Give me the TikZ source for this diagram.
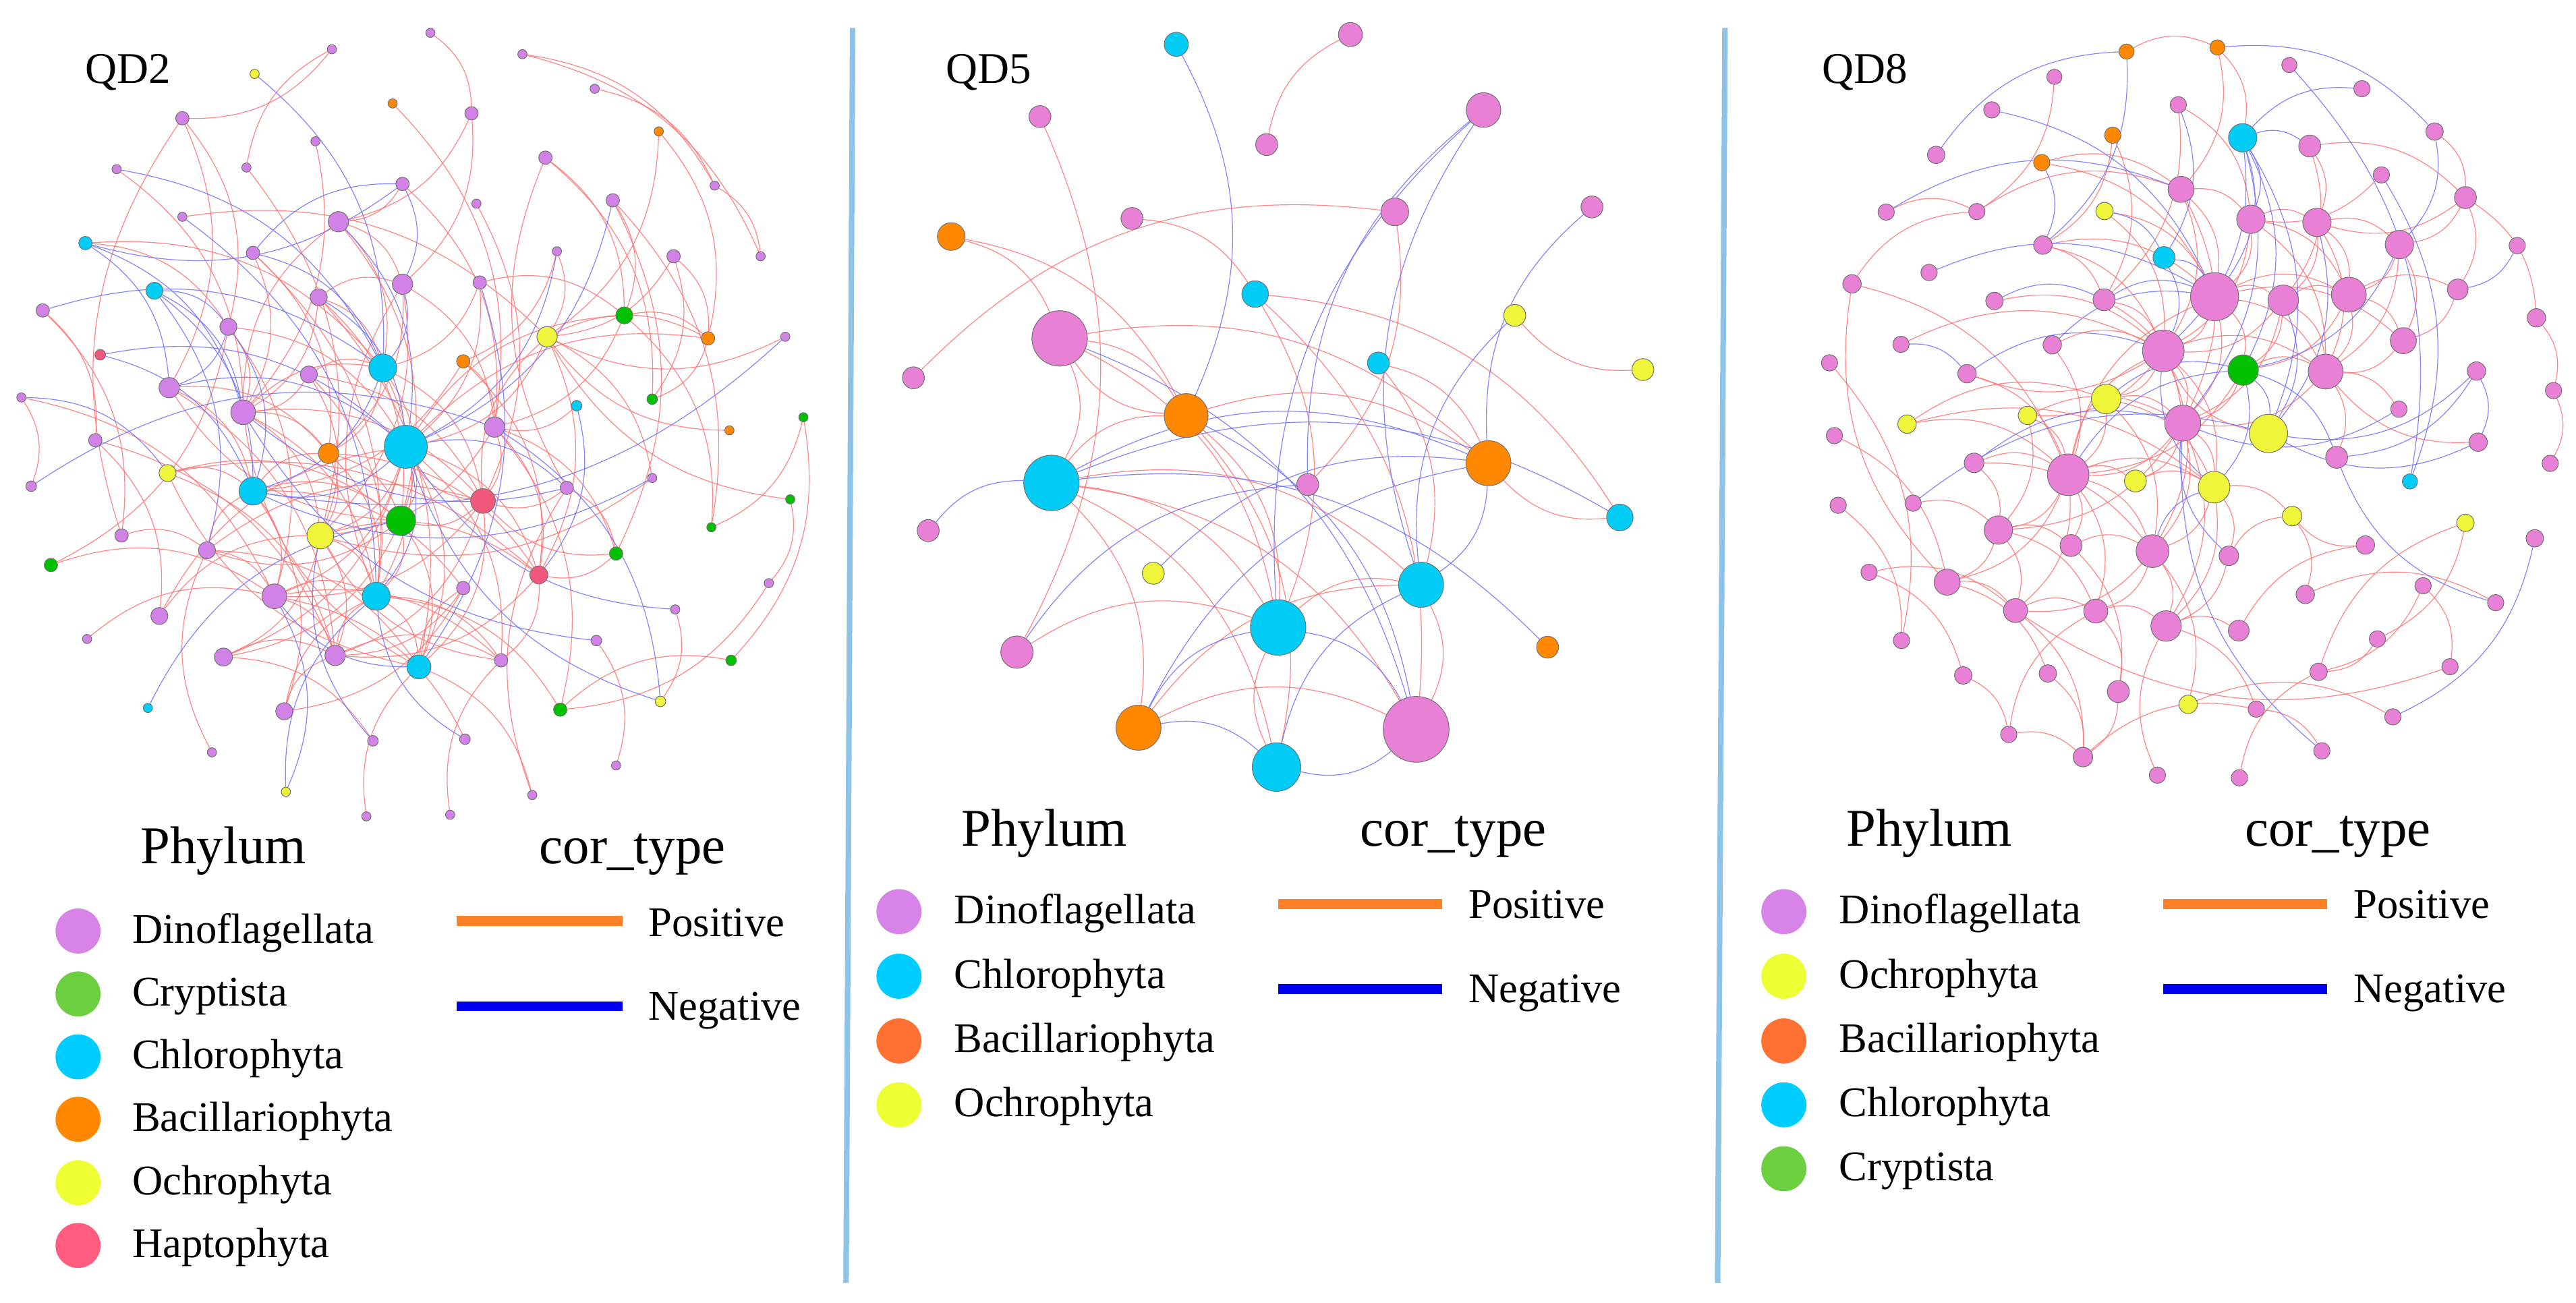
\documentclass[tikz,border=0pt]{standalone}
\usepackage{fontspec}
\setmainfont{Liberation Serif}
\usetikzlibrary{positioning}
\pgfdeclarelayer{edgelayer}
\pgfsetlayers{edgelayer,main}

\definecolor{DinoA}{HTML}{D282E6}
\definecolor{DinoB}{HTML}{E880D6}
\definecolor{DinoLeg}{HTML}{D883E8}
\definecolor{Chloro}{HTML}{00CCF5}
\definecolor{ChloroLeg}{HTML}{00CCFF}
\definecolor{Bacil}{HTML}{FF8800}
\definecolor{BacilLeg}{HTML}{FF7033}
\definecolor{Ochro}{HTML}{EEF53A}
\definecolor{OchroLeg}{HTML}{EEFF33}
\definecolor{Crypto}{HTML}{00C000}
\definecolor{CryptoLeg}{HTML}{6CCF3F}
\definecolor{Hapto}{HTML}{F0587C}
\definecolor{HaptoLeg}{HTML}{FF5C80}
\definecolor{EdgePos}{HTML}{FF7070}
\definecolor{EdgeNeg}{HTML}{6E6EFF}
\definecolor{LegPos}{HTML}{FF7F27}
\definecolor{LegNeg}{HTML}{0000EE}
\definecolor{Divider}{HTML}{8DC3E6}

\tikzset{
  otu/.style={circle, draw=black!55, line width=0.3pt, inner sep=0pt},
  dinoa/.style={otu, fill=DinoA},
  dinob/.style={otu, fill=DinoB},
  chloro/.style={otu, fill=Chloro},
  bacil/.style={otu, fill=Bacil},
  ochro/.style={otu, fill=Ochro},
  crypto/.style={otu, fill=Crypto},
  hapto/.style={otu, fill=Hapto},
  posedge/.style={draw=EdgePos, line width=0.35pt, opacity=0.85, bend left=26},
  negedge/.style={draw=EdgeNeg, line width=0.35pt, opacity=0.85, bend left=26},
  legdot/.style={circle, inner sep=0pt, minimum size=19.5pt},
  legtext/.style={anchor=base west, inner sep=0pt, font=\fontsize{18.3}{20}\selectfont},
  headtext/.style={anchor=base, inner sep=0pt, font=\fontsize{23}{26}\selectfont},
  paneltitle/.style={inner sep=0pt, font=\fontsize{19}{22}\selectfont},
}

\begin{document}
\begin{tikzpicture}[x=0.025cm, y=-0.025cm]
\useasboundingbox (0,0) rectangle (1568,793);

% dividers
\draw[Divider, line width=2.4pt] (519,17) -- (515,781);
\draw[Divider, line width=2.4pt] (1050,17) -- (1045.5,781);

% ---------------- QD2 ----------------
\node[paneltitle] (qd2) at (78,44) {QD2};
\node[dinoa, minimum size=4pt] (a1) at (262,20){};
\node[dinoa, minimum size=4pt] (a2) at (202,30){};
\node[ochro, minimum size=4pt] (a3) at (155,45){};
\node[dinoa, minimum size=4pt] (a4) at (318,33){};
\node[dinoa, minimum size=4pt] (a5) at (362,54){};
\node[dinoa, minimum size=5.8pt] (a6) at (287,69){};
\node[bacil, minimum size=4pt] (a7) at (239,63){};
\node[dinoa, minimum size=5.8pt] (a8) at (111,72){};
\node[dinoa, minimum size=4pt] (a9) at (192,86){};
\node[bacil, minimum size=4pt] (a10) at (401,80){};
\node[dinoa, minimum size=4pt] (a11) at (435,113){};
\node[dinoa, minimum size=4pt] (a12) at (71,103){};
\node[dinoa, minimum size=4pt] (a13) at (150,102){};
\node[dinoa, minimum size=5.8pt] (a14) at (332,96){};
\node[dinoa, minimum size=5.8pt] (a15) at (245,112){};
\node[dinoa, minimum size=4pt] (a16) at (290,124){};
\node[dinoa, minimum size=5.8pt] (a17) at (373,122){};
\node[dinoa, minimum size=4pt] (a18) at (111,132){};
\node[dinoa, minimum size=8.8pt] (a19) at (206,135){};
\node[chloro, minimum size=5.8pt] (a20) at (52,148){};
\node[dinoa, minimum size=5.8pt] (a21) at (154,154){};
\node[dinoa, minimum size=4pt] (a22) at (339,153){};
\node[dinoa, minimum size=5.8pt] (a23) at (410,156){};
\node[dinoa, minimum size=4pt] (a24) at (463,156){};
\node[dinoa, minimum size=8.8pt] (a25) at (245,173){};
\node[dinoa, minimum size=5.8pt] (a26) at (292,172){};
\node[chloro, minimum size=7.4pt] (a27) at (94,177){};
\node[dinoa, minimum size=7.4pt] (a28) at (194,181){};
\node[dinoa, minimum size=5.8pt] (a29) at (26,189){};
\node[dinoa, minimum size=7.4pt] (a30) at (139,199){};
\node[crypto, minimum size=7.4pt] (a31) at (380,192){};
\node[ochro, minimum size=8.8pt] (a32) at (333,205){};
\node[bacil, minimum size=5.8pt] (a33) at (431,206){};
\node[hapto, minimum size=4.6pt] (a34) at (61,216){};
\node[chloro, minimum size=12.1pt] (a35) at (233,224){};
\node[bacil, minimum size=5.8pt] (a36) at (282,220){};
\node[dinoa, minimum size=4pt] (a37) at (478,205){};
\node[dinoa, minimum size=7.4pt] (a38) at (188,228){};
\node[dinoa, minimum size=8.8pt] (a39) at (103,236){};
\node[crypto, minimum size=4.6pt] (a40) at (397,243){};
\node[dinoa, minimum size=4pt] (a41) at (13,242){};
\node[chloro, minimum size=4.6pt] (a42) at (351,247){};
\node[crypto, minimum size=4pt] (a43) at (489,254){};
\node[dinoa, minimum size=10.7pt] (a44) at (148,251){};
\node[dinoa, minimum size=8.8pt] (a45) at (301,260){};
\node[chloro, minimum size=18.6pt] (a46) at (247,272){};
\node[dinoa, minimum size=5.8pt] (a47) at (58,268){};
\node[bacil, minimum size=4pt] (a48) at (444,262){};
\node[bacil, minimum size=8.8pt] (a49) at (200,276){};
\node[ochro, minimum size=7.4pt] (a50) at (102,288){};
\node[dinoa, minimum size=4.6pt] (a51) at (19,296){};
\node[chloro, minimum size=12.1pt] (a52) at (154,299){};
\node[dinoa, minimum size=5.8pt] (a53) at (345,297){};
\node[dinoa, minimum size=4pt] (a54) at (397,291){};
\node[hapto, minimum size=10.7pt] (a55) at (294,305){};
\node[crypto, minimum size=4pt] (a56) at (481,304){};
\node[crypto, minimum size=4pt] (a57) at (433,321){};
\node[crypto, minimum size=12.8pt] (a58) at (244,317){};
\node[ochro, minimum size=11.6pt] (a59) at (195,326){};
\node[dinoa, minimum size=5.8pt] (a60) at (74,326){};
\node[crypto, minimum size=5.8pt] (a61) at (31,344){};
\node[dinoa, minimum size=7.4pt] (a62) at (126,335){};
\node[crypto, minimum size=5.8pt] (a63) at (375,337){};
\node[hapto, minimum size=7.8pt] (a64) at (328,350){};
\node[dinoa, minimum size=10.7pt] (a65) at (167,363){};
\node[chloro, minimum size=12.1pt] (a66) at (229,363){};
\node[dinoa, minimum size=5.8pt] (a67) at (282,358){};
\node[dinoa, minimum size=4pt] (a68) at (468,355){};
\node[dinoa, minimum size=7.4pt] (a69) at (97,375){};
\node[dinoa, minimum size=4pt] (a70) at (411,371){};
\node[dinoa, minimum size=4pt] (a71) at (53,389){};
\node[dinoa, minimum size=7.8pt] (a72) at (136,400){};
\node[dinoa, minimum size=8.8pt] (a73) at (204,399){};
\node[chloro, minimum size=10.4pt] (a74) at (255,406){};
\node[dinoa, minimum size=5.8pt] (a75) at (305,402){};
\node[dinoa, minimum size=4.6pt] (a76) at (363,390){};
\node[crypto, minimum size=4.6pt] (a77) at (445,402){};
\node[chloro, minimum size=4pt] (a78) at (90,431){};
\node[dinoa, minimum size=7.4pt] (a79) at (173,433){};
\node[crypto, minimum size=5.8pt] (a80) at (341,432){};
\node[ochro, minimum size=4.6pt] (a81) at (402,427){};
\node[dinoa, minimum size=4.6pt] (a82) at (227,451){};
\node[dinoa, minimum size=4.6pt] (a83) at (283,450){};
\node[dinoa, minimum size=4pt] (a84) at (129,458){};
\node[dinoa, minimum size=4pt] (a85) at (375,466){};
\node[ochro, minimum size=4pt] (a86) at (174,482){};
\node[dinoa, minimum size=4pt] (a87) at (324,484){};
\node[dinoa, minimum size=4pt] (a88) at (223,497){};
\node[dinoa, minimum size=4pt] (a89) at (274,496){};

\begin{pgfonlayer}{edgelayer}
\draw[posedge] (a1) to (a6);
\draw[posedge] (a2) to (a8);
\draw[posedge] (a13) to (a2);
\draw[posedge] (a4) to (a11);
\draw[posedge] (a4) to (a24);
\draw[posedge] (a5) to (a11);
\draw[posedge] (a6) to (a19);
\draw[posedge] (a6) to (a25);
\draw[posedge] (a7) to (a45);
\draw[posedge] (a8) to (a39);
\draw[posedge] (a8) to (a30);
\draw[posedge] (a60) to (a8);
\draw[posedge] (a9) to (a44);
\draw[posedge] (a10) to (a32);
\draw[posedge] (a10) to (a33);
\draw[posedge] (a12) to (a44);
\draw[posedge] (a13) to (a59);
\draw[posedge] (a14) to (a40);
\draw[posedge] (a14) to (a31);
\draw[posedge] (a53) to (a14);
\draw[posedge] (a15) to (a19);
\draw[posedge] (a15) to (a45);
\draw[posedge] (a16) to (a55);
\draw[posedge] (a17) to (a63);
\draw[posedge] (a17) to (a57);
\draw[posedge] (a18) to (a32);
\draw[posedge] (a19) to (a35);
\draw[posedge] (a44) to (a19);
\draw[posedge] (a19) to (a58);
\draw[posedge] (a20) to (a30);
\draw[posedge] (a20) to (a35);
\draw[posedge] (a21) to (a49);
\draw[posedge] (a21) to (a66);
\draw[posedge] (a22) to (a36);
\draw[posedge] (a23) to (a33);
\draw[posedge] (a23) to (a40);
\draw[posedge] (a25) to (a59);
\draw[posedge] (a66) to (a25);
\draw[posedge] (a26) to (a31);
\draw[posedge] (a26) to (a46);
\draw[posedge] (a28) to (a58);
\draw[posedge] (a28) to (a74);
\draw[posedge] (a29) to (a47);
\draw[posedge] (a29) to (a60);
\draw[posedge] (a30) to (a65);
\draw[posedge] (a30) to (a46);
\draw[posedge] (a31) to (a33);
\draw[posedge] (a31) to (a57);
\draw[posedge] (a55) to (a32);
\draw[posedge] (a32) to (a33);
\draw[posedge] (a32) to (a64);
\draw[posedge] (a32) to (a54);
\draw[posedge] (a33) to (a40);
\draw[posedge] (a35) to (a55);
\draw[posedge] (a35) to (a58);
\draw[posedge] (a44) to (a35);
\draw[posedge] (a36) to (a64);
\draw[posedge] (a36) to (a52);
\draw[posedge] (a38) to (a66);
\draw[posedge] (a38) to (a55);
\draw[posedge] (a39) to (a49);
\draw[posedge] (a39) to (a73);
\draw[posedge] (a58) to (a39);
\draw[posedge] (a41) to (a51);
\draw[posedge] (a41) to (a65);
\draw[posedge] (a43) to (a77);
\draw[posedge] (a44) to (a55);
\draw[posedge] (a44) to (a66);
\draw[posedge] (a74) to (a44);
\draw[posedge] (a45) to (a59);
\draw[posedge] (a45) to (a63);
\draw[posedge] (a45) to (a80);
\draw[posedge] (a46) to (a59);
\draw[posedge] (a46) to (a65);
\draw[posedge] (a55) to (a46);
\draw[posedge] (a46) to (a72);
\draw[posedge] (a46) to (a75);
\draw[posedge] (a46) to (a31);
\draw[posedge] (a46) to (a33);
\draw[posedge] (a47) to (a69);
\draw[posedge] (a47) to (a73);
\draw[posedge] (a48) to (a32);
\draw[posedge] (a49) to (a66);
\draw[posedge] (a49) to (a64);
\draw[posedge] (a35) to (a49);
\draw[posedge] (a50) to (a64);
\draw[posedge] (a50) to (a58);
\draw[posedge] (a50) to (a73);
\draw[posedge] (a74) to (a50);
\draw[posedge] (a52) to (a58);
\draw[posedge] (a52) to (a67);
\draw[posedge] (a52) to (a79);
\draw[posedge] (a53) to (a63);
\draw[posedge] (a54) to (a59);
\draw[posedge] (a55) to (a65);
\draw[posedge] (a55) to (a73);
\draw[posedge] (a62) to (a55);
\draw[posedge] (a56) to (a32);
\draw[posedge] (a58) to (a62);
\draw[posedge] (a58) to (a72);
\draw[posedge] (a58) to (a74);
\draw[posedge] (a59) to (a64);
\draw[posedge] (a59) to (a72);
\draw[posedge] (a75) to (a59);
\draw[posedge] (a60) to (a62);
\draw[posedge] (a61) to (a65);
\draw[posedge] (a30) to (a61);
\draw[posedge] (a62) to (a74);
\draw[posedge] (a63) to (a64);
\draw[posedge] (a64) to (a73);
\draw[posedge] (a65) to (a75);
\draw[posedge] (a65) to (a83);
\draw[posedge] (a66) to (a80);
\draw[posedge] (a66) to (a75);
\draw[posedge] (a67) to (a79);
\draw[posedge] (a68) to (a80);
\draw[posedge] (a69) to (a46);
\draw[posedge] (a69) to (a59);
\draw[posedge] (a70) to (a81);
\draw[posedge] (a71) to (a65);
\draw[posedge] (a72) to (a82);
\draw[posedge] (a73) to (a75);
\draw[posedge] (a74) to (a87);
\draw[posedge] (a76) to (a85);
\draw[posedge] (a80) to (a77);
\draw[posedge] (a84) to (a62);
\draw[posedge] (a88) to (a74);
\draw[posedge] (a89) to (a75);
\draw[posedge] (a87) to (a53);
\draw[posedge] (a37) to (a32);
\draw[posedge] (a42) to (a45);
\draw[posedge] (a11) to (a24);
\draw[posedge] (a43) to (a57);
\draw[posedge] (a56) to (a68);
\draw[posedge] (a79) to (a66);
\draw[posedge] (a25) to (a45);
\draw[posedge] (a28) to (a35);
\draw[posedge] (a38) to (a59);
\draw[posedge] (a62) to (a52);
\draw[posedge] (a73) to (a66);
\draw[posedge] (a74) to (a67);
\draw[posedge] (a19) to (a25);
\draw[posedge] (a28) to (a25);
\draw[posedge] (a38) to (a35);
\draw[posedge] (a38) to (a44);
\draw[posedge] (a44) to (a59);
\draw[posedge] (a44) to (a49);
\draw[posedge] (a49) to (a59);
\draw[posedge] (a49) to (a58);
\draw[posedge] (a52) to (a65);
\draw[posedge] (a52) to (a49);
\draw[posedge] (a35) to (a66);
\draw[posedge] (a46) to (a58);
\draw[posedge] (a46) to (a74);
\draw[posedge] (a46) to (a64);
\draw[posedge] (a55) to (a58);
\draw[posedge] (a55) to (a74);
\draw[posedge] (a58) to (a66);
\draw[posedge] (a59) to (a66);
\draw[posedge] (a59) to (a73);
\draw[posedge] (a65) to (a66);
\draw[posedge] (a65) to (a73);
\draw[posedge] (a66) to (a74);
\draw[posedge] (a72) to (a73);
\draw[posedge] (a79) to (a73);
\draw[posedge] (a62) to (a65);
\draw[posedge] (a50) to (a52);
\draw[posedge] (a39) to (a52);
\draw[posedge] (a30) to (a44);
\draw[posedge] (a21) to (a44);
\draw[posedge] (a28) to (a44);
\draw[posedge] (a25) to (a49);
\draw[posedge] (a26) to (a35);
\draw[posedge] (a32) to (a46);
\draw[posedge] (a45) to (a64);
\draw[posedge] (a45) to (a55);
\draw[posedge] (a36) to (a45);
\draw[posedge] (a64) to (a75);
\draw[posedge] (a63) to (a55);
\draw[posedge] (a67) to (a73);
\draw[posedge] (a53) to (a55);
\draw[posedge] (a31) to (a45);
\draw[posedge] (a23) to (a32);
\draw[posedge] (a17) to (a31);
\draw[posedge] (a22) to (a32);
\draw[negedge] (a3) to (a35);
\draw[negedge] (a12) to (a35);
\draw[negedge] (a15) to (a20);
\draw[negedge] (a21) to (a15);
\draw[negedge] (a20) to (a39);
\draw[negedge] (a20) to (a44);
\draw[negedge] (a27) to (a52);
\draw[negedge] (a27) to (a62);
\draw[negedge] (a27) to (a44);
\draw[negedge] (a29) to (a35);
\draw[negedge] (a34) to (a52);
\draw[negedge] (a34) to (a46);
\draw[negedge] (a37) to (a52);
\draw[negedge] (a22) to (a46);
\draw[negedge] (a17) to (a46);
\draw[negedge] (a26) to (a74);
\draw[negedge] (a41) to (a50);
\draw[negedge] (a51) to (a45);
\draw[negedge] (a54) to (a52);
\draw[negedge] (a70) to (a46);
\draw[negedge] (a78) to (a58);
\draw[negedge] (a81) to (a46);
\draw[negedge] (a45) to (a81);
\draw[negedge] (a86) to (a66);
\draw[negedge] (a65) to (a86);
\draw[negedge] (a82) to (a59);
\draw[negedge] (a83) to (a66);
\draw[negedge] (a76) to (a44);
\draw[negedge] (a53) to (a44);
\draw[negedge] (a21) to (a35);
\draw[negedge] (a25) to (a35);
\draw[negedge] (a30) to (a52);
\draw[negedge] (a39) to (a46);
\draw[negedge] (a18) to (a66);
\draw[negedge] (a42) to (a64);
\draw[negedge] (a15) to (a25);
\draw[negedge] (a46) to (a52);
\draw[negedge] (a35) to (a52);
\draw[negedge] (a46) to (a66);
\draw[negedge] (a28) to (a46);
\draw[negedge] (a19) to (a46);
\draw[negedge] (a46) to (a53);
\draw[negedge] (a74) to (a65);
\draw[negedge] (a27) to (a30);
\draw[negedge] (a30) to (a39);
\end{pgfonlayer}

\node[headtext] (phyA) at (136,525.7) {Phylum};
\node[headtext] (corA) at (385,525.7) {cor\_type};
\node[legdot, fill=DinoLeg] (lgA1) at (47.5,566.8){};
\node[legdot, fill=CryptoLeg] (lgA2) at (47.5,605.1){};
\node[legdot, fill=ChloroLeg] (lgA3) at (47.5,643.4){};
\node[legdot, fill=Bacil] (lgA4) at (47.5,681.4){};
\node[legdot, fill=OchroLeg] (lgA5) at (47.5,720){};
\node[legdot, fill=HaptoLeg] (lgA6) at (47.5,758.2){};
\node[legtext] (txA1) at (80.2,574) {Dinoflagellata};
\node[legtext] (txA2) at (80.2,612.3) {Cryptista};
\node[legtext] (txA3) at (80.2,650.6) {Chlorophyta};
\node[legtext] (txA4) at (80.2,688.6) {Bacillariophyta};
\node[legtext] (txA5) at (80.2,727.2) {Ochrophyta};
\node[legtext] (txA6) at (80.2,765.4) {Haptophyta};
\draw[LegPos, line width=4.3pt] (278,560.7) -- (379,560.7);
\draw[LegNeg, line width=4.3pt] (278,612.6) -- (379,612.6);
\node[legtext] (posA) at (394.5,570) {Positive};
\node[legtext] (negA) at (394.5,620.8) {Negative};

% ---------------- QD5 ----------------
\node[paneltitle] (qd5) at (602,44) {QD5};
\node[chloro, minimum size=10.4pt] (b1) at (716,27){};
\node[dinob, minimum size=10.4pt] (b2) at (822,21){};
\node[dinob, minimum size=9.5pt] (b3) at (633,71){};
\node[dinob, minimum size=9.5pt] (b4) at (771,88){};
\node[dinob, minimum size=15pt] (b5) at (903,67){};
\node[bacil, minimum size=12pt] (b6) at (579,144){};
\node[dinob, minimum size=9.5pt] (b7) at (689,133){};
\node[dinob, minimum size=12pt] (b8) at (849,129){};
\node[dinob, minimum size=9.5pt] (b9) at (969,126){};
\node[chloro, minimum size=11.5pt] (b10) at (764,179){};
\node[ochro, minimum size=9.5pt] (b11) at (922,192){};
\node[dinob, minimum size=24pt] (b12) at (645,206){};
\node[dinob, minimum size=9.5pt] (b13) at (556,230){};
\node[chloro, minimum size=9.5pt] (b14) at (839,221){};
\node[ochro, minimum size=9.5pt] (b15) at (1000,225){};
\node[bacil, minimum size=19pt] (b16) at (722,253){};
\node[chloro, minimum size=24pt] (b17) at (640,294){};
\node[bacil, minimum size=19.5pt] (b18) at (906,282){};
\node[dinob, minimum size=9.5pt] (b19) at (796,295){};
\node[dinob, minimum size=9.5pt] (b20) at (565,323){};
\node[chloro, minimum size=11.5pt] (b21) at (986,315){};
\node[ochro, minimum size=9.5pt] (b22) at (702,349){};
\node[chloro, minimum size=19.5pt] (b23) at (865,356){};
\node[chloro, minimum size=24pt] (b24) at (778,382){};
\node[dinob, minimum size=14pt] (b25) at (619,397){};
\node[bacil, minimum size=9.5pt] (b26) at (942,394){};
\node[bacil, minimum size=19.5pt] (b27) at (693,443){};
\node[dinob, minimum size=28.5pt] (b28) at (862,444){};
\node[chloro, minimum size=21pt] (b29) at (777,467){};

\begin{pgfonlayer}{edgelayer}
\draw[posedge] (b4) to (b2);
\draw[posedge] (b3) to (b25);
\draw[posedge] (b6) to (b12);
\draw[posedge] (b6) to (b16);
\draw[posedge] (b7) to (b10);
\draw[posedge] (b13) to (b8);
\draw[posedge] (b8) to (b19);
\draw[posedge] (b15) to (b11);
\draw[posedge] (b10) to (b24);
\draw[posedge] (b10) to (b21);
\draw[posedge] (b10) to (b28);
\draw[posedge] (b14) to (b18);
\draw[posedge] (b14) to (b23);
\draw[posedge] (b12) to (b16);
\draw[posedge] (b16) to (b12);
\draw[posedge] (b12) to (b17);
\draw[posedge] (b12) to (b18);
\draw[posedge] (b17) to (b16);
\draw[posedge] (b16) to (b18);
\draw[posedge] (b16) to (b29);
\draw[posedge] (b16) to (b24);
\draw[posedge] (b17) to (b23);
\draw[posedge] (b17) to (b24);
\draw[posedge] (b17) to (b27);
\draw[posedge] (b17) to (b29);
\draw[posedge] (b17) to (b28);
\draw[posedge] (b25) to (b24);
\draw[posedge] (b21) to (b18);
\draw[posedge] (b24) to (b23);
\draw[posedge] (b27) to (b23);
\draw[posedge] (b23) to (b28);
\draw[posedge] (b29) to (b24);
\draw[posedge] (b27) to (b28);
\draw[posedge] (b12) to (b24);
\draw[negedge] (b1) to (b16);
\draw[negedge] (b19) to (b5);
\draw[negedge] (b24) to (b5);
\draw[negedge] (b23) to (b5);
\draw[negedge] (b18) to (b9);
\draw[negedge] (b12) to (b28);
\draw[negedge] (b20) to (b17);
\draw[negedge] (b17) to (b18);
\draw[negedge] (b17) to (b21);
\draw[negedge] (b22) to (b18);
\draw[negedge] (b25) to (b19);
\draw[negedge] (b18) to (b23);
\draw[negedge] (b27) to (b18);
\draw[negedge] (b29) to (b23);
\draw[negedge] (b24) to (b28);
\draw[negedge] (b27) to (b24);
\draw[negedge] (b27) to (b29);
\draw[negedge] (b28) to (b29);
\draw[negedge] (b17) to (b26);
\draw[negedge] (b23) to (b11);
\draw[negedge] (b16) to (b28);
\end{pgfonlayer}

\node[headtext] (phyB) at (635.7,515) {Phylum};
\node[headtext] (corB) at (884.7,515) {cor\_type};
\node[legdot, fill=DinoLeg] (lgB1) at (547.2,555){};
\node[legdot, fill=ChloroLeg] (lgB2) at (547.2,594.3){};
\node[legdot, fill=BacilLeg] (lgB3) at (547.2,633.7){};
\node[legdot, fill=OchroLeg] (lgB4) at (547.2,672.6){};
\node[legtext] (txB1) at (580.6,562.2) {Dinoflagellata};
\node[legtext] (txB2) at (580.6,601.5) {Chlorophyta};
\node[legtext] (txB3) at (580.6,640.9) {Bacillariophyta};
\node[legtext] (txB4) at (580.6,679.8) {Ochrophyta};
\draw[LegPos, line width=4.3pt] (778,550.5) -- (877.7,550.5);
\draw[LegNeg, line width=4.3pt] (778,602) -- (877.7,602);
\node[legtext] (posB) at (893.7,559) {Positive};
\node[legtext] (negB) at (893.7,610.5) {Negative};

% ---------------- QD8 ----------------
\node[paneltitle] (qd8) at (1135,44) {QD8};
\node[bacil, minimum size=6.6pt] (c1) at (1294.4,31.4){};
\node[bacil, minimum size=6.6pt] (c2) at (1349.7,28.9){};
\node[dinob, minimum size=6.6pt] (c3) at (1393.5,39.6){};
\node[dinob, minimum size=6.6pt] (c4) at (1250.5,46.8){};
\node[dinob, minimum size=7.1pt] (c5) at (1437.7,54){};
\node[dinob, minimum size=7.1pt] (c6) at (1212.4,66.9){};
\node[dinob, minimum size=7.1pt] (c7) at (1325.9,63.8){};
\node[chloro, minimum size=12.3pt] (c8) at (1365.1,83.9){};
\node[bacil, minimum size=7.1pt] (c9) at (1286,82.3){};
\node[dinob, minimum size=7.6pt] (c10) at (1481.9,80.1){};
\node[dinob, minimum size=9.5pt] (c11) at (1405.9,88.9){};
\node[bacil, minimum size=7.1pt] (c12) at (1242.8,99){};
\node[dinob, minimum size=7.6pt] (c13) at (1178.5,94.3){};
\node[dinob, minimum size=7.1pt] (c14) at (1449.5,106.5){};
\node[dinob, minimum size=11.3pt] (c15) at (1327.6,115.3){};
\node[dinob, minimum size=9.5pt] (c16) at (1500.7,120.3){};
\node[ochro, minimum size=7.6pt] (c17) at (1281,128.5){};
\node[dinob, minimum size=7.1pt] (c18) at (1148.1,129.1){};
\node[dinob, minimum size=7.1pt] (c19) at (1203.3,128.8){};
\node[dinob, minimum size=12.3pt] (c20) at (1370.1,133.5){};
\node[dinob, minimum size=12.3pt] (c21) at (1410.3,135.4){};
\node[dinob, minimum size=12.3pt] (c22) at (1460.5,148.9){};
\node[dinob, minimum size=7.1pt] (c23) at (1532.2,149.5){};
\node[dinob, minimum size=8pt] (c24) at (1243.5,149.2){};
\node[chloro, minimum size=9.5pt] (c25) at (1317.2,156.8){};
\node[dinob, minimum size=8pt] (c26) at (1127.3,172.8){};
\node[dinob, minimum size=7.1pt] (c27) at (1174.2,165.9){};
\node[dinob, minimum size=20.8pt] (c28) at (1348,180.6){};
\node[dinob, minimum size=13.2pt] (c29) at (1389.8,182.8){};
\node[dinob, minimum size=15.1pt] (c30) at (1429.7,179.4){};
\node[dinob, minimum size=9pt] (c31) at (1496,176.2){};
\node[dinob, minimum size=7.6pt] (c32) at (1214,183.2){};
\node[dinob, minimum size=9.5pt] (c33) at (1280.7,182.5){};
\node[dinob, minimum size=8pt] (c34) at (1543.9,193.5){};
\node[dinob, minimum size=7.1pt] (c35) at (1157.1,209.6){};
\node[dinob, minimum size=8pt] (c36) at (1249.2,209.9){};
\node[dinob, minimum size=18pt] (c37) at (1316.8,213.6){};
\node[dinob, minimum size=11.3pt] (c38) at (1462.9,207.4){};
\node[dinob, minimum size=7.1pt] (c39) at (1113.6,220.9){};
\node[dinob, minimum size=8pt] (c40) at (1197.3,227.5){};
\node[crypto, minimum size=13.2pt] (c41) at (1365.4,225.3){};
\node[dinob, minimum size=15.1pt] (c42) at (1415.6,226.2){};
\node[dinob, minimum size=8pt] (c43) at (1507.4,225.9){};
\node[dinob, minimum size=7.1pt] (c44) at (1554.3,237.8){};
\node[ochro, minimum size=12.8pt] (c45) at (1282,242.9){};
\node[ochro, minimum size=8pt] (c46) at (1234.1,252.9){};
\node[ochro, minimum size=8pt] (c47) at (1160.8,258.2){};
\node[dinob, minimum size=7.1pt] (c48) at (1460.2,249.1){};
\node[dinob, minimum size=15.6pt] (c49) at (1328.6,257.6){};
\node[ochro, minimum size=16.6pt] (c50) at (1380.8,263.9){};
\node[dinob, minimum size=7.1pt] (c51) at (1116.6,265.2){};
\node[dinob, minimum size=8pt] (c52) at (1508.4,269.2){};
\node[dinob, minimum size=8.5pt] (c53) at (1201.6,281.8){};
\node[dinob, minimum size=9.5pt] (c54) at (1422.3,278.4){};
\node[dinob, minimum size=18pt] (c55) at (1258.9,289){};
\node[ochro, minimum size=9.5pt] (c56) at (1299.8,292.8){};
\node[ochro, minimum size=13.7pt] (c57) at (1347.7,296.6){};
\node[chloro, minimum size=6.6pt] (c58) at (1466.9,293.1){};
\node[dinob, minimum size=7.1pt] (c59) at (1552.3,282.1){};
\node[dinob, minimum size=7.1pt] (c60) at (1118.9,307.6){};
\node[dinob, minimum size=7.1pt] (c61) at (1164.5,306.3){};
\node[ochro, minimum size=8.5pt] (c62) at (1395.2,314.2){};
\node[ochro, minimum size=7.6pt] (c63) at (1500.7,318.3){};
\node[dinob, minimum size=7.6pt] (c64) at (1542.9,327.7){};
\node[dinob, minimum size=12.3pt] (c65) at (1216.4,322.7){};
\node[dinob, minimum size=9.5pt] (c66) at (1260.6,332.1){};
\node[dinob, minimum size=14.2pt] (c67) at (1310.2,335.5){};
\node[dinob, minimum size=8.5pt] (c68) at (1356.7,338.4){};
\node[dinob, minimum size=8pt] (c69) at (1439.8,331.8){};
\node[dinob, minimum size=7.1pt] (c70) at (1137.7,348.4){};
\node[dinob, minimum size=11.3pt] (c71) at (1185.2,354.4){};
\node[dinob, minimum size=8pt] (c72) at (1403.2,361.9){};
\node[dinob, minimum size=7.1pt] (c73) at (1474.9,356.6){};
\node[dinob, minimum size=7.1pt] (c74) at (1519.1,366.9){};
\node[dinob, minimum size=10.4pt] (c75) at (1226.8,371.7){};
\node[dinob, minimum size=10.4pt] (c76) at (1275.7,372){};
\node[dinob, minimum size=13.2pt] (c77) at (1318.5,381.1){};
\node[dinob, minimum size=9pt] (c78) at (1362.7,383.9){};
\node[dinob, minimum size=7.1pt] (c79) at (1157.4,389.9){};
\node[dinob, minimum size=7.1pt] (c80) at (1447.1,389){};
\node[dinob, minimum size=7.1pt] (c81) at (1491.3,405.9){};
\node[dinob, minimum size=7.6pt] (c82) at (1246.5,410){};
\node[dinob, minimum size=7.6pt] (c83) at (1195,411.2){};
\node[dinob, minimum size=7.6pt] (c84) at (1411.3,409){};
\node[dinob, minimum size=9.5pt] (c85) at (1289.4,421){};
\node[ochro, minimum size=8pt] (c86) at (1331.9,428.8){};
\node[dinob, minimum size=7.1pt] (c87) at (1373.4,431.7){};
\node[dinob, minimum size=7.1pt] (c88) at (1456.5,436.4){};
\node[dinob, minimum size=7.1pt] (c89) at (1222.7,447.1){};
\node[dinob, minimum size=8.5pt] (c90) at (1267.9,460.9){};
\node[dinob, minimum size=7.1pt] (c91) at (1413.3,457.1){};
\node[dinob, minimum size=7.1pt] (c92) at (1313.2,471.9){};
\node[dinob, minimum size=7.1pt] (c93) at (1363.1,473.5){};

\begin{pgfonlayer}{edgelayer}
\draw[posedge] (c1) to (c2);
\draw[posedge] (c2) to (c15);
\draw[posedge] (c2) to (c8);
\draw[posedge] (c4) to (c19);
\draw[posedge] (c7) to (c33);
\draw[posedge] (c7) to (c20);
\draw[posedge] (c9) to (c33);
\draw[posedge] (c9) to (c24);
\draw[posedge] (c10) to (c16);
\draw[posedge] (c11) to (c21);
\draw[posedge] (c11) to (c16);
\draw[posedge] (c11) to (c29);
\draw[posedge] (c12) to (c15);
\draw[posedge] (c12) to (c28);
\draw[posedge] (c14) to (c20);
\draw[posedge] (c15) to (c20);
\draw[posedge] (c15) to (c28);
\draw[posedge] (c15) to (c37);
\draw[posedge] (c15) to (c49);
\draw[posedge] (c16) to (c22);
\draw[posedge] (c16) to (c31);
\draw[posedge] (c16) to (c34);
\draw[posedge] (c17) to (c28);
\draw[posedge] (c17) to (c37);
\draw[posedge] (c18) to (c19);
\draw[posedge] (c19) to (c15);
\draw[posedge] (c26) to (c19);
\draw[posedge] (c20) to (c21);
\draw[posedge] (c20) to (c28);
\draw[posedge] (c20) to (c30);
\draw[posedge] (c20) to (c42);
\draw[posedge] (c21) to (c30);
\draw[posedge] (c21) to (c22);
\draw[posedge] (c21) to (c29);
\draw[posedge] (c22) to (c30);
\draw[posedge] (c22) to (c38);
\draw[posedge] (c22) to (c42);
\draw[posedge] (c24) to (c28);
\draw[posedge] (c24) to (c33);
\draw[posedge] (c71) to (c26);
\draw[posedge] (c26) to (c55);
\draw[posedge] (c28) to (c29);
\draw[posedge] (c28) to (c37);
\draw[posedge] (c28) to (c30);
\draw[posedge] (c28) to (c41);
\draw[posedge] (c28) to (c42);
\draw[posedge] (c28) to (c49);
\draw[posedge] (c55) to (c28);
\draw[posedge] (c28) to (c38);
\draw[posedge] (c29) to (c42);
\draw[posedge] (c29) to (c37);
\draw[posedge] (c29) to (c30);
\draw[posedge] (c29) to (c49);
\draw[posedge] (c30) to (c38);
\draw[posedge] (c30) to (c42);
\draw[posedge] (c30) to (c31);
\draw[posedge] (c31) to (c38);
\draw[posedge] (c32) to (c37);
\draw[posedge] (c33) to (c37);
\draw[posedge] (c34) to (c44);
\draw[posedge] (c36) to (c37);
\draw[posedge] (c36) to (c55);
\draw[posedge] (c37) to (c45);
\draw[posedge] (c37) to (c49);
\draw[posedge] (c55) to (c37);
\draw[posedge] (c37) to (c40);
\draw[posedge] (c37) to (c42);
\draw[posedge] (c37) to (c46);
\draw[posedge] (c37) to (c67);
\draw[posedge] (c38) to (c42);
\draw[posedge] (c39) to (c79);
\draw[posedge] (c40) to (c55);
\draw[posedge] (c41) to (c42);
\draw[posedge] (c41) to (c49);
\draw[posedge] (c41) to (c55);
\draw[posedge] (c42) to (c49);
\draw[posedge] (c42) to (c54);
\draw[posedge] (c42) to (c48);
\draw[posedge] (c44) to (c59);
\draw[posedge] (c45) to (c55);
\draw[posedge] (c45) to (c49);
\draw[posedge] (c46) to (c49);
\draw[posedge] (c46) to (c55);
\draw[posedge] (c47) to (c55);
\draw[posedge] (c47) to (c45);
\draw[posedge] (c49) to (c55);
\draw[posedge] (c49) to (c57);
\draw[posedge] (c49) to (c67);
\draw[posedge] (c49) to (c56);
\draw[posedge] (c49) to (c77);
\draw[posedge] (c50) to (c37);
\draw[posedge] (c51) to (c71);
\draw[posedge] (c53) to (c55);
\draw[posedge] (c53) to (c65);
\draw[posedge] (c55) to (c65);
\draw[posedge] (c55) to (c66);
\draw[posedge] (c55) to (c67);
\draw[posedge] (c55) to (c75);
\draw[posedge] (c55) to (c76);
\draw[posedge] (c55) to (c71);
\draw[posedge] (c55) to (c56);
\draw[posedge] (c56) to (c57);
\draw[posedge] (c57) to (c62);
\draw[posedge] (c57) to (c67);
\draw[posedge] (c57) to (c68);
\draw[posedge] (c60) to (c79);
\draw[posedge] (c62) to (c72);
\draw[posedge] (c63) to (c80);
\draw[posedge] (c84) to (c63);
\draw[posedge] (c65) to (c66);
\draw[posedge] (c65) to (c71);
\draw[posedge] (c65) to (c75);
\draw[posedge] (c65) to (c76);
\draw[posedge] (c66) to (c67);
\draw[posedge] (c66) to (c85);
\draw[posedge] (c67) to (c77);
\draw[posedge] (c67) to (c76);
\draw[posedge] (c67) to (c75);
\draw[posedge] (c67) to (c86);
\draw[posedge] (c68) to (c77);
\draw[posedge] (c69) to (c62);
\draw[posedge] (c70) to (c75);
\draw[posedge] (c70) to (c83);
\draw[posedge] (c71) to (c75);
\draw[posedge] (c71) to (c82);
\draw[posedge] (c73) to (c81);
\draw[posedge] (c73) to (c84);
\draw[posedge] (c75) to (c76);
\draw[posedge] (c75) to (c90);
\draw[posedge] (c76) to (c77);
\draw[posedge] (c76) to (c85);
\draw[posedge] (c89) to (c76);
\draw[posedge] (c77) to (c78);
\draw[posedge] (c92) to (c77);
\draw[posedge] (c77) to (c87);
\draw[posedge] (c78) to (c69);
\draw[posedge] (c80) to (c84);
\draw[posedge] (c81) to (c75);
\draw[posedge] (c82) to (c90);
\draw[posedge] (c83) to (c89);
\draw[posedge] (c93) to (c84);
\draw[posedge] (c85) to (c90);
\draw[posedge] (c86) to (c88);
\draw[posedge] (c87) to (c91);
\draw[posedge] (c89) to (c90);
\draw[posedge] (c90) to (c87);
\draw[posedge] (c72) to (c74);
\draw[posedge] (c47) to (c57);
\draw[posedge] (c61) to (c65);
\draw[posedge] (c35) to (c37);
\draw[posedge] (c52) to (c42);
\draw[posedge] (c16) to (c21);
\draw[posedge] (c53) to (c67);
\draw[posedge] (c57) to (c77);
\draw[posedge] (c45) to (c67);
\draw[posedge] (c68) to (c62);
\draw[posedge] (c20) to (c37);
\draw[posedge] (c21) to (c42);
\draw[posedge] (c29) to (c41);
\draw[posedge] (c30) to (c41);
\draw[posedge] (c49) to (c65);
\draw[posedge] (c55) to (c57);
\draw[posedge] (c45) to (c57);
\draw[posedge] (c46) to (c65);
\draw[posedge] (c33) to (c49);
\draw[posedge] (c37) to (c57);
\draw[posedge] (c24) to (c37);
\draw[negedge] (c13) to (c1);
\draw[negedge] (c1) to (c24);
\draw[negedge] (c2) to (c10);
\draw[negedge] (c3) to (c58);
\draw[negedge] (c8) to (c5);
\draw[negedge] (c6) to (c28);
\draw[negedge] (c7) to (c25);
\draw[negedge] (c8) to (c11);
\draw[negedge] (c8) to (c28);
\draw[negedge] (c8) to (c37);
\draw[negedge] (c8) to (c41);
\draw[negedge] (c8) to (c20);
\draw[negedge] (c8) to (c49);
\draw[negedge] (c8) to (c50);
\draw[negedge] (c12) to (c24);
\draw[negedge] (c14) to (c58);
\draw[negedge] (c17) to (c25);
\draw[negedge] (c18) to (c15);
\draw[negedge] (c23) to (c31);
\draw[negedge] (c25) to (c28);
\draw[negedge] (c25) to (c37);
\draw[negedge] (c27) to (c28);
\draw[negedge] (c32) to (c33);
\draw[negedge] (c35) to (c40);
\draw[negedge] (c40) to (c37);
\draw[negedge] (c36) to (c28);
\draw[negedge] (c41) to (c50);
\draw[negedge] (c41) to (c57);
\draw[negedge] (c41) to (c54);
\draw[negedge] (c43) to (c54);
\draw[negedge] (c43) to (c52);
\draw[negedge] (c43) to (c50);
\draw[negedge] (c52) to (c50);
\draw[negedge] (c61) to (c50);
\draw[negedge] (c64) to (c88);
\draw[negedge] (c74) to (c54);
\draw[negedge] (c91) to (c49);
\draw[negedge] (c68) to (c49);
\draw[negedge] (c67) to (c57);
\draw[negedge] (c57) to (c37);
\draw[negedge] (c53) to (c49);
\draw[negedge] (c33) to (c28);
\draw[negedge] (c22) to (c41);
\draw[negedge] (c29) to (c50);
\draw[negedge] (c21) to (c50);
\draw[negedge] (c45) to (c41);
\draw[negedge] (c10) to (c22);
\draw[negedge] (c48) to (c49);
\draw[negedge] (c55) to (c41);
\end{pgfonlayer}

\node[headtext] (phyC) at (1174.4,515) {Phylum};
\node[headtext] (corC) at (1423,515) {cor\_type};
\node[legdot, fill=DinoLeg] (lgC1) at (1085.8,555){};
\node[legdot, fill=OchroLeg] (lgC2) at (1085.8,594.3){};
\node[legdot, fill=BacilLeg] (lgC3) at (1085.8,633.7){};
\node[legdot, fill=ChloroLeg] (lgC4) at (1085.8,672.6){};
\node[legdot, fill=CryptoLeg] (lgC5) at (1085.8,711.5){};
\node[legtext] (txC1) at (1119.3,562.2) {Dinoflagellata};
\node[legtext] (txC2) at (1119.3,601.5) {Ochrophyta};
\node[legtext] (txC3) at (1119.3,640.9) {Bacillariophyta};
\node[legtext] (txC4) at (1119.3,679.8) {Chlorophyta};
\node[legtext] (txC5) at (1119.3,718.7) {Cryptista};
\draw[LegPos, line width=4.3pt] (1316.8,550.5) -- (1416.3,550.5);
\draw[LegNeg, line width=4.3pt] (1316.8,602) -- (1416.3,602);
\node[legtext] (posC) at (1432.4,559) {Positive};
\node[legtext] (negC) at (1432.4,610.5) {Negative};
\end{tikzpicture}
\end{document}
